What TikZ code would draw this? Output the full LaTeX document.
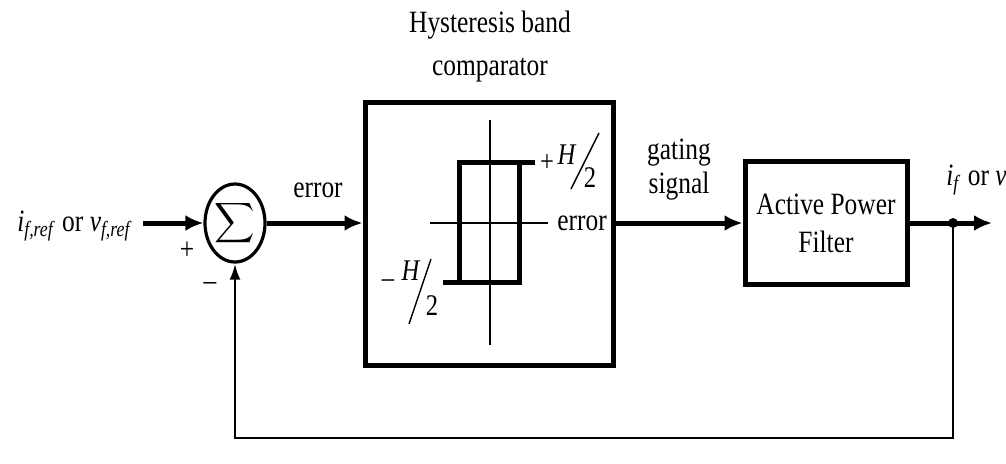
\documentclass[tikz,border=0pt]{standalone}
\usepackage{fontspec}
\setmainfont{Liberation Serif}[FakeStretch=0.82]
\usetikzlibrary{arrows.meta,positioning,shapes.geometric}

\begin{document}
\begin{tikzpicture}[
  x=0.5pt, y=-0.5pt,
  font=\fontsize{15.5}{19}\selectfont,
  blockbox/.style={draw, line width=2.5pt, inner sep=0pt, align=center},
  sumnode/.style={draw, ellipse, line width=1.6pt, minimum width=30pt, minimum height=39pt, inner sep=0pt},
  lbl/.style={inner sep=0pt, align=center},
  frac/.style={inner sep=0pt, font=\fontsize{15}{15}\selectfont},
  slash/.style={line width=0.7pt},
  arrow/.style={-{Latex[length=9pt,width=8pt]}, line width=2.5pt},
  fbarrow/.style={-{Latex[length=8pt,width=5.5pt]}, line width=1.4pt},
  curve/.style={line width=2.5pt},
  axis/.style={line width=0.6pt}
]
\useasboundingbox (0,0) rectangle (1006,463);

% blocks
\node[sumnode] (sum) at (235,223) {\scalebox{1.4}{$\displaystyle\sum$}};
\node[blockbox, minimum width=124pt, minimum height=131.5pt] (hbc) at (489,233.5) {};
\node[blockbox, minimum width=81pt, minimum height=61.5pt] (apf) at (826,223) {Active Power\\[0pt]Filter};

% labels
\node[lbl, anchor=east] (inlbl) at (133,226) {\textit{i}\textsubscript{\textit{f,ref}} or \textit{v}\textsubscript{\textit{f,ref}}};
\node[lbl] (plus) at (187,251) {+};
\node[lbl] (minus) at (210,286) {--};
\node[lbl] (err) at (318,190) {error};
\node[lbl] (title) at (490,47) {Hysteresis band\\[2.5pt]comparator};
\node[lbl] (gate) at (679,170) {gating\\[-2pt]signal};
\node[lbl, anchor=west] (outlbl) at (946,180) {\textit{i}\textsubscript{\textit{f}} or \textit{v}\textsubscript{\textit{f}}};

% hysteresis characteristic
\draw[axis] (490,120) -- (490,345);
\draw[axis] (430,223) -- (548,223);
\draw[curve] (535,162) -- (459,162) -- (459,282);
\draw[curve] (443,282) -- (519,282) -- (519,162);
\node[lbl, anchor=west] (herr) at (557,223) {error};

% +H/2 and -H/2
\node[frac] (hupsign) at (547,163) {+};
\node[frac] (huph) at (567,155) {\textit{H}};
\node[frac] (huptwo) at (590,178) {2};
\draw[slash] (571,189) -- (599,133);
\node[frac] (hdnsign) at (388,284) {--};
\node[frac] (hdnh) at (411,271) {\textit{H}};
\node[frac] (hdntwo) at (432,306) {2};
\draw[slash] (409,324) -- (431,259);

% connectors
\coordinate (in) at (143,223);
\coordinate (tap) at (953,223);
\coordinate (fb) at (953,438);
\coordinate (out) at (992,223);
\draw[arrow] (in) -- (sum.west);
\draw[arrow] (sum.east) -- (sum.east -| hbc.west);
\draw[arrow] (sum.east -| hbc.east) -- (apf.west);
\draw[arrow] (apf.east) -- (out);
\draw[fbarrow] (tap) -- (fb) -| (sum.south);
\fill (tap) circle[radius=2.5pt];
\end{tikzpicture}
\end{document}
